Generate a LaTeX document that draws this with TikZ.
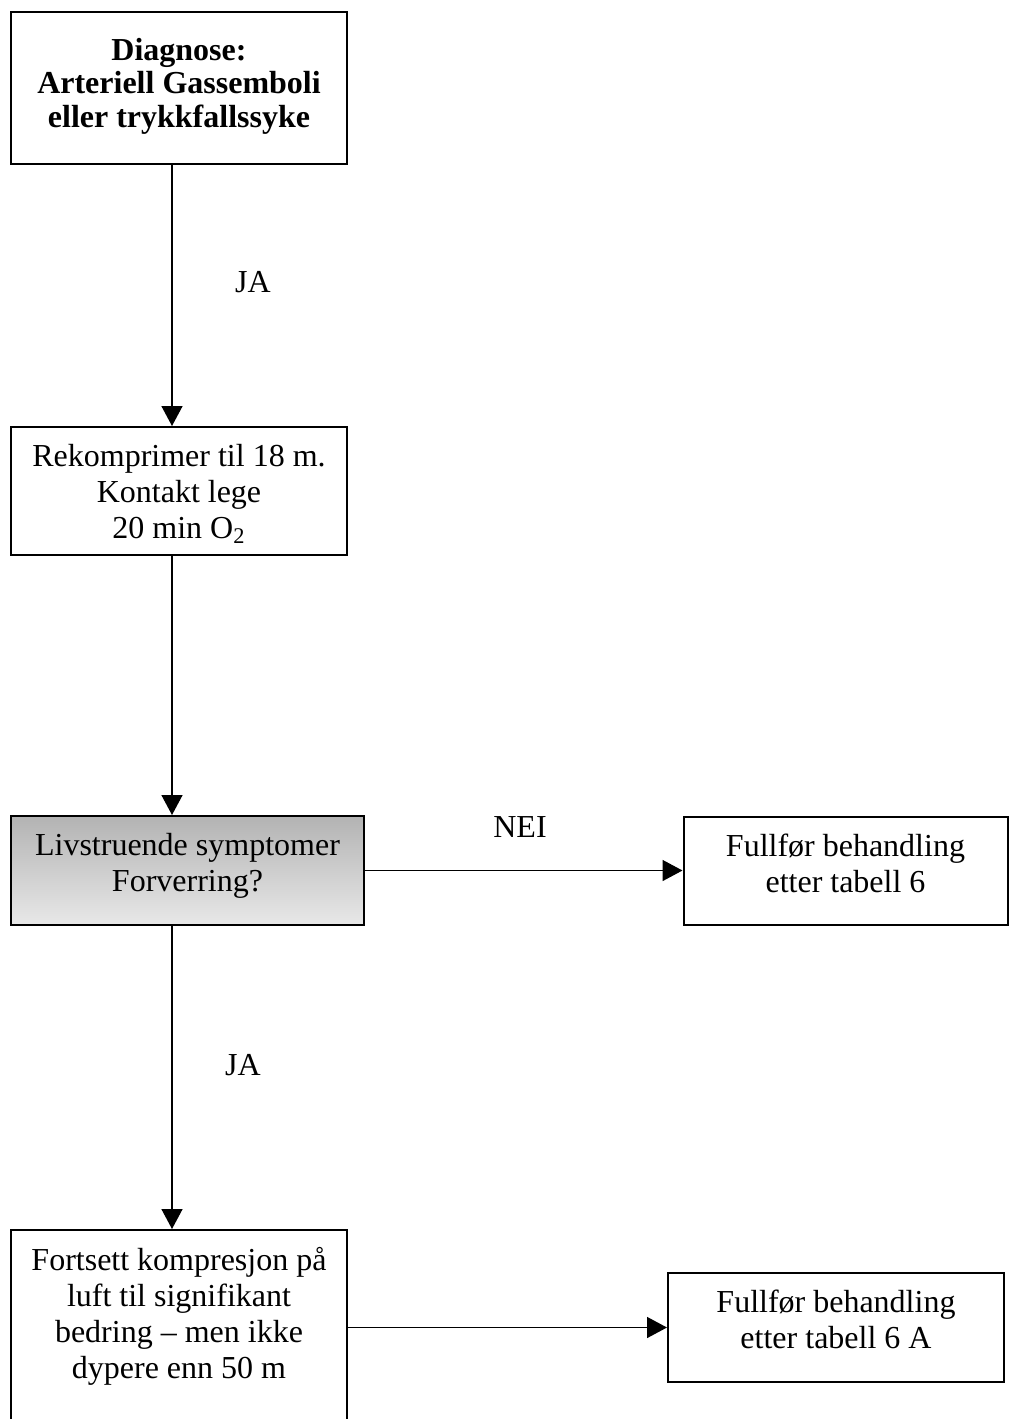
\documentclass[tikz,border=0pt]{standalone}
\usepackage{fontspec}
\setmainfont{Liberation Serif}
\usetikzlibrary{arrows.meta}
\definecolor{boxgraytop}{RGB}{179,179,179}
\definecolor{boxgraybot}{RGB}{232,232,232}
% text set from the top of a box of given height
\newcommand{\boxlines}[3][8.5pt]{\begin{minipage}[t][#2][t]{158pt}\centering\vspace*{#1}#3\end{minipage}}

\begin{document}
\begin{tikzpicture}[
  x=0.5pt, y=-0.5pt,
  block/.style={
    draw=black,
    line width=1pt,
    minimum width=168pt,
    inner xsep=2pt,
    inner ysep=0pt,
    align=center,
    font=\fontsize{16}{18}\selectfont
  },
  question/.style={block, top color=boxgraytop, bottom color=boxgraybot},
  line/.style={-{Triangle[length=10pt,width=10.5pt]}, line width=0.75pt, draw=black},
  annot/.style={font=\fontsize{16}{18}\selectfont}
]
\useasboundingbox (0,0) rectangle (1008,1419);

% Main column
\node[block, font=\fontsize{16}{16.75}\selectfont\bfseries] (diag) at (179,88)
  {\boxlines[13pt]{76pt}{Diagnose:\\Arteriell Gassemboli\\eller trykkfallssyke}};
\node[block] (rekomp) at (179,491)
  {\boxlines{64pt}{Rekomprimer til 18 m.\\Kontakt lege\\20 min O\textsubscript{2}}};
\node[question, minimum width=176.5pt] (livs) at (187.5,870.5)
  {\boxlines{54.5pt}{Livstruende symptomer\\Forverring?}};
\node[block, anchor=north] (fort) at (179,1229)
  {\boxlines{100pt}{Fortsett kompresjon på\\luft til signifikant\\bedring -- men ikke\\dypere enn 50 m}};

% Right column
\node[block, minimum width=161.5pt] (tab6) at (845.5,871)
  {\boxlines{54pt}{Fullfør behandling\\etter tabell 6}};
\node[block] (tab6a) at (836,1327.5)
  {\boxlines{54.5pt}{Fullfør behandling\\etter tabell 6 A}};

% Connectors
\coordinate (spine) at (172,0);
\draw[line] (diag.south -| spine) -- (rekomp.north -| spine);
\draw[line] (rekomp.south -| spine) -- (livs.north -| spine);
\draw[line] (livs.south -| spine) -- (fort.north -| spine);
\draw[line] (livs.east) -- (livs.east -| tab6.west);
\draw[line] (fort.east |- tab6a.west) -- (tab6a.west);

% Labels
\node[annot] (ja1) at (253,282) {JA};
\node[annot] (nei) at (520,827) {NEI};
\node[annot] (ja2) at (243,1065) {JA};

\end{tikzpicture}
\end{document}
